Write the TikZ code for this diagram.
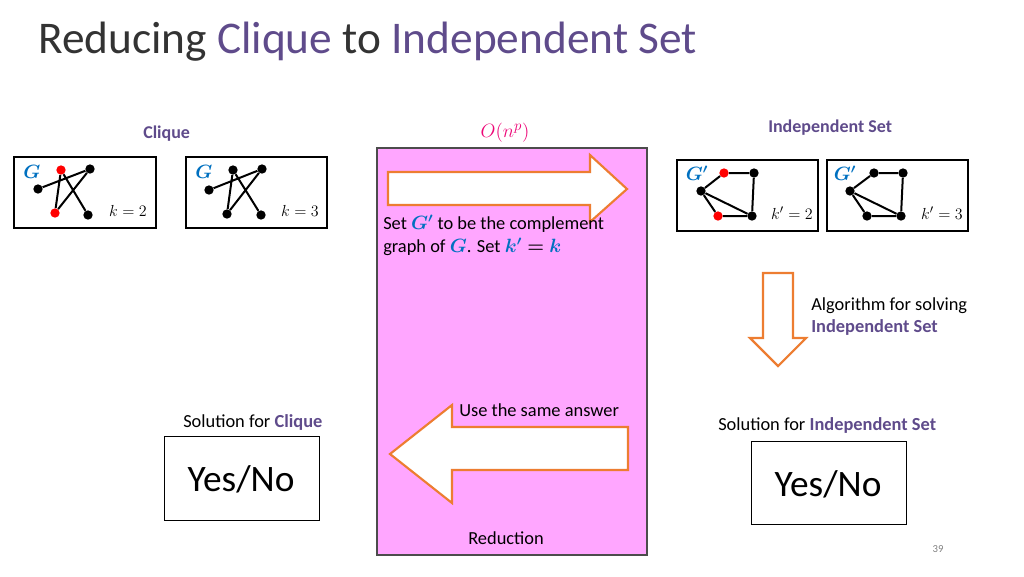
\documentclass[tikz,border=0pt]{standalone}
\usepackage{amsmath,bm}
\usepackage{fontspec}
\setmainfont{Carlito}
\begin{document}
\begin{tikzpicture}[x=0.75pt,y=-0.75pt,
  v/.style={circle,fill=black,inner sep=0pt,minimum size=7pt},
  rv/.style={circle,fill=red,inner sep=0pt,minimum size=7pt},
  e/.style={line width=1.5pt},
  gbox/.style={draw,line width=2pt},
  ans/.style={draw,line width=0.6pt},
  arr/.style={fill=white,line width=1.6pt,line join=miter},
  kl/.style={font=\fontsize{13}{15}\selectfont},
  lab/.style={font=\fontsize{13.8}{17}\selectfont,inner sep=0pt,anchor=west}]
\definecolor{purp}{HTML}{5F4B8B}
\definecolor{gblue}{HTML}{0070C0}
\definecolor{oran}{HTML}{ED7D31}
\definecolor{pinkf}{HTML}{FFA6FF}
\useasboundingbox (0,0) rectangle (1024,576);
\node[anchor=west,inner sep=0pt,text=black!80,font=\fontsize{34}{40}\selectfont] (title) at (38,42) {Reducing \textcolor{purp}{Clique} to \textcolor{purp}{Independent Set}};
% pink reduction box
\draw[fill=pinkf,draw=black!70,line width=0.8pt] (377,148) rectangle (647,555);
\node[lab] (red) at (468,538) {Reduction};
\node[font=\fontsize{15}{17}\selectfont,text=magenta!80!red] (onp) at (505,133) {$O(n^p)$};
% arrows
\draw[arr,draw=oran] (388,172) -- (590,172) -- (590,155) -- (627,189) -- (590,222) -- (590,205) -- (388,205) -- cycle;
\draw[arr,draw=oran] (628,427) -- (452,427) -- (452,405) -- (390,454) -- (452,503) -- (452,470) -- (628,470) -- cycle;
\draw[arr,draw=oran] (763,273) -- (793,273) -- (793,338) -- (806,338) -- (778,366) -- (750,338) -- (763,338) -- cycle;
\node[lab,align=left,anchor=north west] (settxt) at (383,215) {Set $\bm{\textcolor{gblue}{G'}}$ to be the complement\\graph of $\bm{\textcolor{gblue}{G}}$. Set $\bm{\textcolor{gblue}{k'}=\textcolor{gblue}{k}}$};
\node[lab] (same) at (459,410) {Use the same answer};
% labels
\node[lab,font=\fontsize{13.5}{16}\selectfont\bfseries,text=purp] (cl) at (143,134) {Clique};
\node[lab,font=\fontsize{13.5}{16}\selectfont\bfseries,text=purp] (is) at (768,128) {Independent Set};
\node[lab,align=left,anchor=north west] (alg) at (811,297) {Algorithm for solving\\\textbf{\textcolor{purp}{Independent Set}}};
\node[lab] (solc) at (183,422) {Solution for \textbf{\textcolor{purp}{Clique}}};
\node[lab] (soli) at (718,425) {Solution for \textbf{\textcolor{purp}{Independent Set}}};
\draw[ans] (164,436) rectangle (319,520);
\node[font=\fontsize{28}{32}\selectfont] (yn1) at (241,479) {Yes/No};
\draw[ans] (751,441) rectangle (906,524);
\node[font=\fontsize{28}{32}\selectfont] (yn2) at (828,484) {Yes/No};
% G boxes
\draw[gbox] (14,157) rectangle (156,228);
\draw[gbox] (186,157) rectangle (327,228);
\draw[gbox] (677,160) rectangle (818,231);
\draw[gbox] (827,160) rectangle (968,231);
% graph 1
\node[text=gblue,font=\Large] (g1) at (32,172) {$\bm{G}$};
\node[rv] (a1) at (61,170) {}; \node[v] (b1) at (90,169) {}; \node[v] (c1) at (38,189) {};
\node[rv] (d1) at (55,213) {}; \node[v] (f1) at (88,215) {};
\draw[e] (c1)--(b1) (a1)--(d1) (a1)--(f1) (b1)--(d1);
\node[kl] (k1) at (128,211) {$k=2$};
% graph 2
\node[text=gblue,font=\Large] (g2) at (204,172) {$\bm{G}$};
\node[v] (a2) at (233,170) {}; \node[v] (b2) at (262,169) {}; \node[v] (c2) at (209,190) {};
\node[v] (d2) at (227,214) {}; \node[v] (f2) at (261,215) {};
\draw[e] (c2)--(b2) (a2)--(d2) (a2)--(f2) (b2)--(d2);
\node[kl] (k2) at (300,211) {$k=3$};
% graph 3
\node[text=gblue,font=\Large] (g3) at (697,173) {$\bm{G'}$};
\node[v] (c3) at (701,191) {}; \node[rv] (a3) at (724,173) {}; \node[v] (b3) at (754,173) {};
\node[v] (f3) at (752,216) {}; \node[rv] (d3) at (718,216) {};
\draw[e] (c3)--(a3)--(b3)--(f3)--(d3)--(c3)--(f3);
\node[kl] (k3) at (792,213) {$k'=2$};
% graph 4
\node[text=gblue,font=\Large] (g4) at (845,173) {$\bm{G'}$};
\node[v] (c4) at (850,191) {}; \node[v] (a4) at (874,173) {}; \node[v] (b4) at (903,173) {};
\node[v] (f4) at (901,216) {}; \node[v] (d4) at (867,216) {};
\draw[e] (c4)--(a4)--(b4)--(f4)--(d4)--(c4)--(f4);
\node[kl] (k4) at (942,213) {$k'=3$};
\node[font=\fontsize{8}{9}\selectfont,text=gray] (pg) at (938,549) {39};
\end{tikzpicture}
\end{document}
